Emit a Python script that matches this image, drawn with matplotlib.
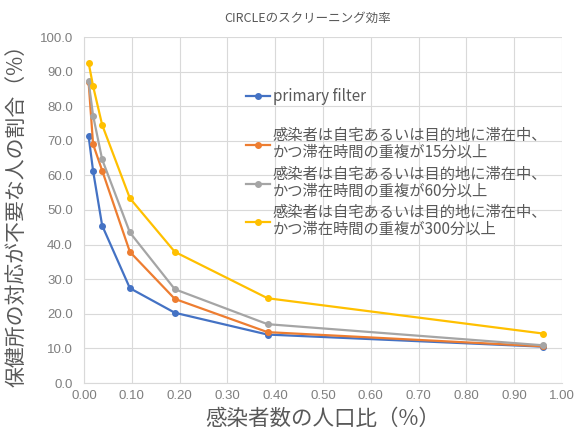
import matplotlib
matplotlib.use("Agg")
import matplotlib.pyplot as plt
from matplotlib.ticker import MultipleLocator, FormatStrFormatter

plt.rcParams['font.family'] = ['Noto Sans CJK JP', 'DejaVu Sans']

# data
x = [0.0096, 0.019, 0.038, 0.096, 0.19, 0.384, 0.96]
primary = [71.4, 61.3, 45.5, 27.4, 20.3, 14.0, 10.5]
stay15 = [87.0, 69.0, 61.4, 37.9, 24.3, 14.7, 10.6]
stay60 = [87.2, 77.3, 64.6, 43.5, 27.1, 17.0, 10.9]
stay300 = [92.6, 85.8, 74.6, 53.4, 37.9, 24.5, 14.3]

labels = [
    "primary filter",
    "感染者は自宅あるいは目的地に滞在中、\nかつ滞在時間の重複が15分以上",
    "感染者は自宅あるいは目的地に滞在中、\nかつ滞在時間の重複が60分以上",
    "感染者は自宅あるいは目的地に滞在中、\nかつ滞在時間の重複が300分以上",
]
colors = ["#4472C4", "#ED7D31", "#A5A5A5", "#FFC000"]
series = [primary, stay15, stay60, stay300]

W, H = 576, 434
fig = plt.figure(figsize=(W / 100, H / 100), dpi=100)
ax = fig.add_axes([84/W, 1 - 383/H, (562-84)/W, (383-37)/H])

lines = []
for ys, c in zip(series, colors):
    ln, = ax.plot(x, ys, color=c, lw=1.6, marker='o', ms=4)
    lines.append(ln)

ax.set_xlim(0, 1.0)
ax.set_ylim(0, 100)
ax.xaxis.set_major_locator(MultipleLocator(0.1))
ax.yaxis.set_major_locator(MultipleLocator(10))
ax.xaxis.set_major_formatter(FormatStrFormatter('%.2f'))
ax.yaxis.set_major_formatter(FormatStrFormatter('%.1f'))
ax.grid(True, color='#D9D9D9', lw=0.8)
ax.set_axisbelow(True)
for s in ['top', 'right']:
    ax.spines[s].set_visible(False)
for s in ['left', 'bottom']:
    ax.spines[s].set_color('#D9D9D9')
ax.tick_params(axis='x', length=0, labelsize=9.5, colors='#7F7F7F', pad=5)
ax.tick_params(axis='y', length=0, labelsize=9.5, colors='#7F7F7F', pad=8)
for lab in ax.get_xticklabels() + ax.get_yticklabels():
    lab.set_family('Liberation Sans')

fig.text(308/W, 1 - 18/H, "CIRCLEのスクリーニング効率", fontsize=9,
         color='#595959', ha='center', va='center')
ax.set_xlabel("感染者数の人口比（%）", fontsize=15.5, color='#595959', labelpad=4)
ax.set_ylabel("保健所の対応が不要な人の割合（%）", fontsize=15, color='#595959',
              labelpad=9)

leg_kw = dict(loc='upper left', frameon=False, fontsize=11, labelcolor='#595959',
              handlelength=1.6, handletextpad=0.15, borderaxespad=0, borderpad=0,
              bbox_transform=fig.transFigure)
leg1 = fig.legend([lines[0]], [labels[0]], bbox_to_anchor=(246/W, 1 - 88/H), **leg_kw)
leg2 = fig.legend(lines[1:], labels[1:], bbox_to_anchor=(246/W, 1 - 127/H),
                  labelspacing=0.3, **leg_kw)
for t in leg2.get_texts():
    t.set_linespacing(1.0)
fig.savefig("out.png", dpi=100)
